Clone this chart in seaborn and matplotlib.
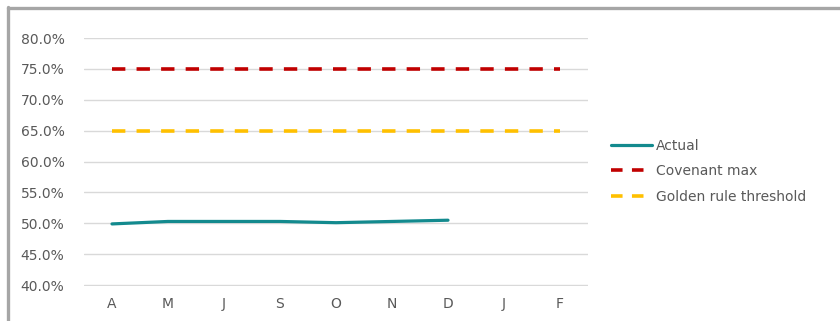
import matplotlib
matplotlib.use("Agg")
import matplotlib.pyplot as plt
from matplotlib.lines import Line2D
from matplotlib.ticker import PercentFormatter
import seaborn as sns
import pandas as pd

# Month initials along the x axis (April through February)
months = ["A", "M", "J", "S", "O", "N", "D", "J", "F"]
actual = [0.499, 0.503, 0.503, 0.503, 0.501, 0.503, 0.505]
covenant_max = [0.75] * 9
golden_rule = [0.65] * 9

sns.set_theme(style="white")
plt.rcParams["font.family"] = ["DejaVu Sans"]

TEXT = "#595959"
TEAL = "#138a8e"
RED = "#c00000"
GOLD = "#ffc000"

fig = plt.figure(figsize=(8.4, 3.21), dpi=100)
ax = fig.add_axes([0.1, 35 / 321, 0.6, 248 / 321])

pos = list(range(len(months)))
df_act = pd.DataFrame({"x": pos[:len(actual)], "v": actual})
df_cov = pd.DataFrame({"x": pos, "v": covenant_max})
df_gold = pd.DataFrame({"x": pos, "v": golden_rule})

dash = (3.7, 3.1)
sns.lineplot(data=df_cov, x="x", y="v", ax=ax, color=RED, lw=2.6,
             linestyle=(0, dash))
sns.lineplot(data=df_gold, x="x", y="v", ax=ax, color=GOLD, lw=2.6,
             linestyle=(0, dash))
sns.lineplot(data=df_act, x="x", y="v", ax=ax, color=TEAL, lw=2.3,
             solid_capstyle="round")
for ln in ax.lines[:2]:
    ln.set_dash_capstyle("butt")

ax.set_xlim(-0.5, len(months) - 0.5)
ax.set_ylim(0.3985, 0.80)
ax.set_yticks([0.40 + 0.05 * i for i in range(9)])
ax.yaxis.set_major_formatter(PercentFormatter(1.0, decimals=1))
ax.set_xticks(pos)
ax.set_xticklabels(months)
ax.set_xlabel("")
ax.set_ylabel("")
ax.grid(axis="y", color="#d9d9d9", lw=1)
ax.set_axisbelow(True)
for s in ax.spines.values():
    s.set_visible(False)
ax.tick_params(axis="both", length=0, labelsize=10, colors=TEXT)
ax.tick_params(axis="y", pad=14)
ax.tick_params(axis="x", pad=8)

handles = [
    Line2D([], [], color=TEAL, lw=2.3),
    Line2D([], [], color=RED, lw=2.6, linestyle=(0, (3.2, 2.6))),
    Line2D([], [], color=GOLD, lw=2.6, linestyle=(0, (3.2, 2.6))),
]
labels = ["Actual", "Covenant max", "Golden rule threshold"]
fig.legend(handles, labels, loc="upper left",
           bbox_to_anchor=(605 / 840, 1 - 133 / 321), frameon=False,
           fontsize=10, labelcolor=TEXT, handlelength=3.0,
           handletextpad=0.25, labelspacing=0.85, borderaxespad=0)

# Frame edges along the top and left of the canvas
border = "#a6a6a6"
fig.add_artist(Line2D([7.5 / 840, 1.0], [1 - 7.5 / 321, 1 - 7.5 / 321],
                      transform=fig.transFigure, color=border, lw=2.4))
fig.add_artist(Line2D([8 / 840, 8 / 840], [0.0, 1 - 6.5 / 321],
                      transform=fig.transFigure, color=border, lw=2.4))

fig.savefig("out.png", dpi=100, facecolor="white")
